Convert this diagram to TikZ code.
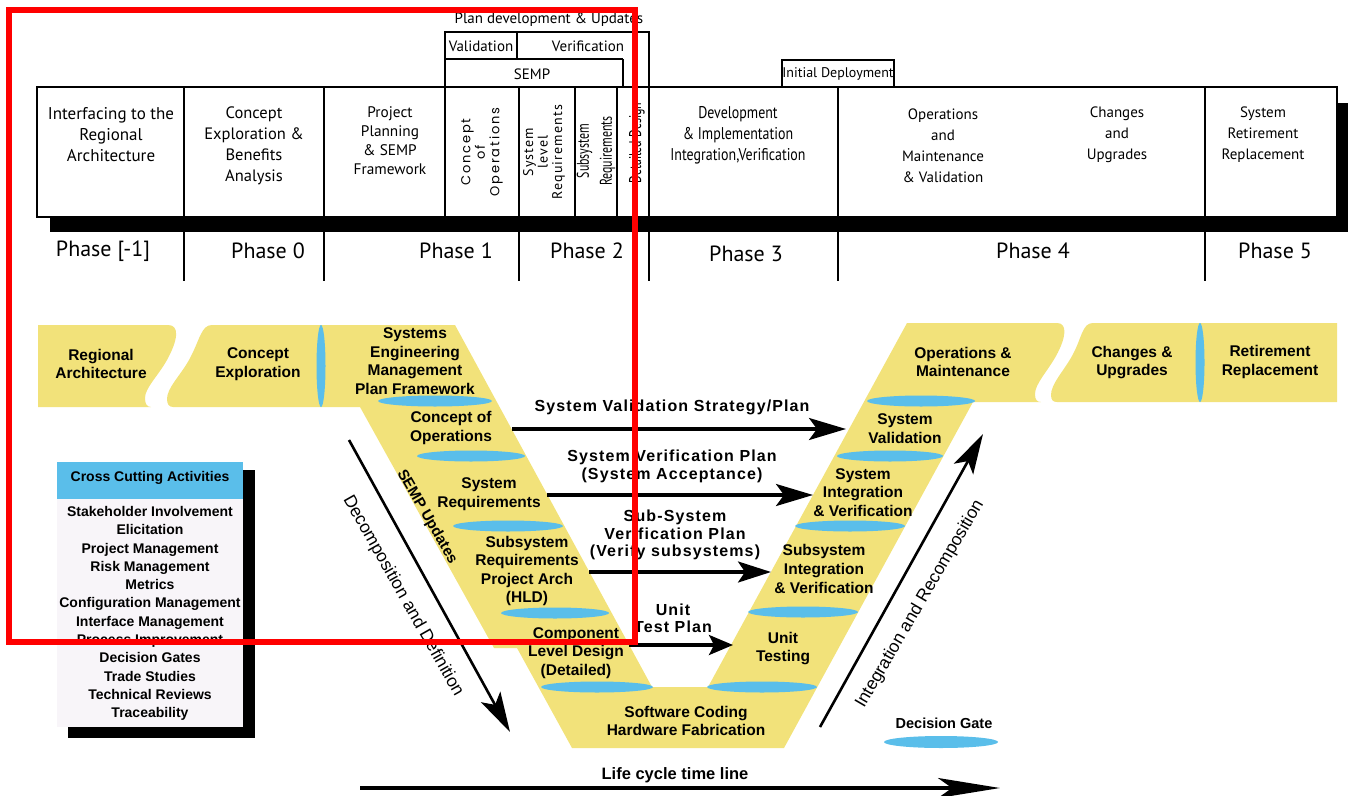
\documentclass[tikz,border=0pt]{standalone}
\usepackage{fontspec}
\setmainfont{Liberation Sans}
\newfontfamily\hdrfont{PT Sans}
\newfontfamily\spacedhdr[LetterSpace=8]{PT Sans}
\newfontfamily\condhdr[FakeStretch=0.7]{PT Sans}
\newfontfamily\semicondhdr[FakeStretch=0.82]{PT Sans}
\newfontfamily\roundfont[LetterSpace=14]{Poppins}
\newfontfamily\planfont[LetterSpace=7]{Liberation Sans}
\usetikzlibrary{arrows.meta,shapes.geometric}
\definecolor{vyellow}{RGB}{242,226,122}
\definecolor{gateblue}{RGB}{90,190,234}
\definecolor{boxbody}{RGB}{248,245,249}
\begin{document}
\begin{tikzpicture}[x=1pt,y=-1pt,
  hline/.style={line width=1.3pt},
  hdrtext/.style={font=\hdrfont\fontsize{15}{21}\selectfont, align=center, inner sep=0pt},
  tabtext/.style={font=\hdrfont\fontsize{15}{17}\selectfont, inner sep=0pt},
  phase/.style={font=\hdrfont\fontsize{22}{25}\selectfont, inner sep=0pt},
  vtext/.style={font=\bfseries\fontsize{15.5}{18.6}\selectfont, align=center, inner sep=0pt},
  gate/.style={ellipse, fill=gateblue, inner sep=0pt, minimum height=11pt},
  vgate/.style={ellipse, fill=gateblue, inner sep=0pt, minimum width=9pt},
  planlabel/.style={font=\planfont\bfseries\fontsize{16}{17.3}\selectfont, align=center, inner sep=0pt},
  planarrow/.style={line width=3.2pt, -{Stealth[length=37pt,width=22pt,inset=8pt]}},
  flowarrow/.style={line width=2.6pt, -{Stealth[length=40pt,width=22pt,inset=9pt]}},
  flowtext/.style={font=\fontsize{17.5}{20}\selectfont, inner sep=0pt},
  listtext/.style={font=\bfseries\fontsize{14}{18.27}\selectfont, align=center, inner sep=0pt},
]
\useasboundingbox (0,0) rectangle (1348,795);

% ---------- plan tabs above the header ----------
\node[tabtext] (plandev) at (549,20) {Plan development \& Updates};
\draw[hline] (445,87) -- (445,32) -- (649,32) -- (649,87);
\draw[hline] (445,59) -- (623,59);
\draw[hline] (517,32) -- (517,59);
\draw[hline] (623,59) -- (623,87);
\node[tabtext] (valtab) at (481,46) {Validation};
\node[tabtext] (vertab) at (588,46) {Verification};
\node[tabtext] (semptab) at (532,74) {SEMP};
\draw[hline] (782,87) -- (782,60) -- (894,60) -- (894,87);
\node[tabtext, font=\hdrfont\fontsize{14}{16}\selectfont] (deploytab) at (838,74) {Initial Deployment};

% ---------- header band with shadow ----------
\fill[black] (50,103) rectangle (1348,232);
\draw[hline, fill=white] (37,87) rectangle (1337,217);
\foreach \x in {184,324,445,519,575,617,649,838,1205}
  \draw[hline] (\x,87) -- (\x,217);
\foreach \x in {184,324,519,649,838,1205}
  \draw[hline] (\x,232) -- (\x,281);

\node[hdrtext, font=\hdrfont\fontsize{17}{21}\selectfont] (h1) at (111,135) {Interfacing to the\\Regional\\Architecture};
\node[hdrtext, font=\hdrfont\fontsize{16.5}{21}\selectfont] (h2) at (254,145.5) {Concept\\Exploration \&\\Benefits\\Analysis};
\node[hdrtext, font=\hdrfont\fontsize{15.3}{19}\selectfont] (h3) at (390,141) {Project\\Planning\\\& SEMP\\Framework};
\node[font=\roundfont\fontsize{13}{14.5}\selectfont, rotate=90, align=center, inner sep=0pt] (h4) at (482,152) {Concept\\of\\Operations};
\node[font=\spacedhdr\fontsize{14}{14.5}\selectfont, rotate=90, align=center, inner sep=0pt] (h5) at (544,152) {System\\level\\Requirements};
\node[font=\condhdr\fontsize{17}{23}\selectfont, rotate=90, align=center, inner sep=0pt] (h6) at (596,151) {Subsystem\\Requirements};
\begin{scope}
  \clip (617,87) rectangle (649,217);
  \node[font=\condhdr\fontsize{17}{20}\selectfont, rotate=90, inner sep=0pt] (h7) at (637,143) {Detailed Design};
\end{scope}
\node[hdrtext, font=\semicondhdr\fontsize{17}{21}\selectfont] (h8) at (738,135) {Development\\\& Implementation\\Integration,Verification};
\node[hdrtext] (h9) at (943,145.5) {Operations\\and\\Maintenance\\\& Validation};
\node[hdrtext] (h10) at (1117,135) {Changes\\and\\Upgrades};
\node[hdrtext] (h11) at (1263,135) {System\\Retirement\\Replacement};

\node[phase] (p0) at (103,251) {Phase [-1]};
\node[phase] (p1) at (268,251) {Phase 0};
\node[phase] (p2) at (456,251) {Phase 1};
\node[phase] (p3) at (587,251) {Phase 2};
\node[phase] (p4) at (746,254) {Phase 3};
\node[phase] (p5) at (1033,251) {Phase 4};
\node[phase] (p6) at (1275,251) {Phase 5};

% ---------- the V ----------
\fill[vyellow] (38,325) -- (168,325) .. controls (180,325) and (178,340) .. (167,360)
  .. controls (158,376) and (145,388) .. (145,398) .. controls (145,404) and (147,407) .. (151,407)
  -- (38,407) -- cycle;
\fill[vyellow] (212,325) -- (455,325) -- (652,687) -- (708,687) -- (907,323)
  -- (1057,323) .. controls (1068,323) and (1066,338) .. (1056,356)
  .. controls (1047,372) and (1035,384) .. (1035,394) .. controls (1035,400) and (1037,402) .. (1041,402)
  -- (973,402) -- (784,748) -- (572,748) -- (517,648) -- (494,648) -- (360,407)
  -- (173,407) .. controls (169,407) and (167,404) .. (167,399)
  .. controls (167,388) and (180,376) .. (189,360) .. controls (200,340) and (201,325) .. (212,325) -- cycle;
\fill[vyellow] (1093,323) -- (1337,323) -- (1337,402) -- (1057,402)
  .. controls (1053,402) and (1051,400) .. (1051,395)
  .. controls (1051,384) and (1063,372) .. (1072,356) .. controls (1082,338) and (1082,323) .. (1093,323) -- cycle;

% decision gates
\node[vgate, minimum height=82pt] (vg1) at (321,366) {};
\node[vgate, minimum height=79pt] (vg2) at (1200,362.5) {};
\node[gate, minimum width=114pt] (g1) at (435,401) {};
\node[gate, minimum width=108pt] (g2) at (471,456) {};
\node[gate, minimum width=110pt] (g3) at (508,526) {};
\node[gate, minimum width=108pt] (g4) at (555,613) {};
\node[gate, minimum width=112pt] (g5) at (597,687) {};
\node[gate, minimum width=110pt] (g6) at (762,687) {};
\node[gate, minimum width=110pt] (g7) at (803,612) {};
\node[gate, minimum width=110pt] (g8) at (850,526) {};
\node[gate, minimum width=106pt] (g9) at (890,456) {};
\node[gate, minimum width=108pt] (g10) at (921,401) {};

% stage labels
\node[vtext] (regarch) at (101,364) {Regional\\Architecture};
\node[vtext] (conexp) at (258,364) {Concept\\Exploration};
\node[vtext] (sempfw) at (415,361) {Systems\\Engineering\\Management\\Plan Framework};
\node[vtext] (conops) at (451,428) {Concept of\\Operations};
\node[vtext] (sysreq) at (489,494) {System\\Requirements};
\node[vtext] (subreq) at (527,571) {Subsystem\\Requirements\\Project Arch\\(HLD)};
\node[vtext] (comp) at (576,653) {Component\\Level Design\\(Detailed)};
\node[vtext] (swhw) at (686,721) {Software Coding\\Hardware Fabrication};
\node[vtext] (unit) at (783,648.5) {Unit\\Testing};
\node[vtext] (subint) at (824,569) {Subsystem\\Integration\\\& Verification};
\node[vtext] (sysint) at (863,492.5) {System\\Integration\\\& Verification};
\node[vtext] (sysval) at (905,428.5) {System\\Validation};
\node[vtext] (opsm) at (963,362) {Operations \&\\Maintenance};
\node[vtext] (chg) at (1132,362.5) {Changes \&\\Upgrades};
\node[vtext] (ret) at (1270,362) {Retirement\\Replacement};

% ---------- plans linking the two arms ----------
\coordinate (a1s) at (512,429); \coordinate (a1e) at (846,429);
\coordinate (a2s) at (547,495); \coordinate (a2e) at (813,495);
\coordinate (a3s) at (589,572); \coordinate (a3e) at (771,572);
\coordinate (a4s) at (629,645); \coordinate (a4e) at (733,645);
\draw[planarrow] (a1s) -- (a1e);
\draw[planarrow] (a2s) -- (a2e);
\draw[line width=3.2pt, -{Stealth[length=33pt,width=21pt,inset=7pt]}] (a3s) -- (a3e);
\draw[line width=3.2pt, -{Stealth[length=24pt,width=20pt,inset=5pt]}] (a4s) -- (a4e);
\node[planlabel] (l1) at (672,407) {System Validation Strategy/Plan};
\node[planlabel] (l2) at (672,466.5) {System Verification Plan\\(System Acceptance)};
\node[planlabel] (l3) at (675,535) {Sub-System\\Verification Plan\\(Verify subsystems)};
\node[planlabel] (l4) at (673,618.5) {Unit\\Test Plan};

% ---------- decomposition / integration ----------
\coordinate (dd1) at (349,440); \coordinate (dd2) at (510,732);
\draw[flowarrow] (dd1) -- (dd2);
\node[flowtext, rotate=-60.5] (ddtext) at (403,596) {Decomposition and Definition};
\node[font=\bfseries\fontsize{15}{18}\selectfont, rotate=-60, inner sep=0pt] (sempupd) at (427,517) {SEMP Updates};
\coordinate (ir1) at (820,727); \coordinate (ir2) at (983,434);
\draw[flowarrow] (ir1) -- (ir2);
\node[flowtext, rotate=59.7] (irtext) at (920,604) {Integration and Recomposition};

% ---------- life cycle ----------
\coordinate (lc1) at (360,788); \coordinate (lc2) at (1000,788);
\draw[line width=3.5pt, -{Stealth[length=62pt,width=20pt,inset=14pt]}] (lc1) -- (lc2);
\node[font=\bfseries\fontsize{16.5}{19}\selectfont, inner sep=0pt] (lctext) at (675,775) {Life cycle time line};

% ---------- legend ----------
\node[font=\bfseries\fontsize{14.5}{17}\selectfont, inner sep=0pt] (dgtext) at (944,723) {Decision Gate};
\node[gate, minimum width=114pt, minimum height=12pt] (dgshape) at (941,742) {};

% ---------- cross cutting activities ----------
\fill[black] (68,470) rectangle (255,738);
\fill[boxbody] (57,499) rectangle (243,727);
\fill[gateblue] (57,462) rectangle (243,499);
\node[listtext] (cchead) at (150,478) {Cross Cutting Activities};
\node[listtext] (cclist) at (150,613.5) {Stakeholder Involvement\\Elicitation\\Project Management\\Risk Management\\Metrics\\Configuration Management\\Interface Management\\Process Improvement\\Decision Gates\\Trade Studies\\Technical Reviews\\Traceability};

% ---------- highlight frame ----------
\draw[red, line width=5.5pt] (9,10) rectangle (635,642);
\end{tikzpicture}
\end{document}
